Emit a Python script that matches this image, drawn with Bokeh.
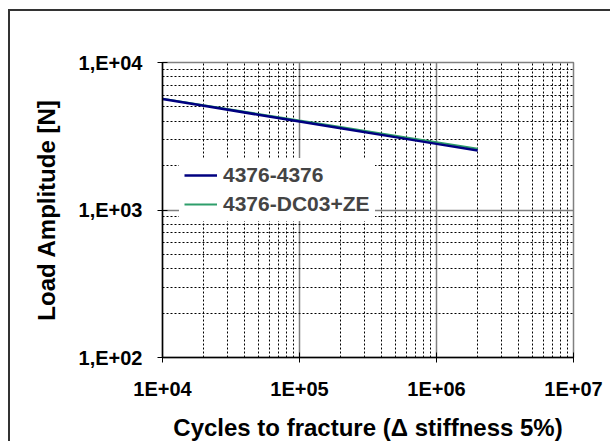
from bokeh.plotting import figure
from bokeh.models import FixedTicker, Legend, LegendItem, Range1d
from bokeh.embed import file_html
from bokeh.resources import INLINE

# Data
cycles = [1e4, 2e4, 5e4, 1e5, 2e5, 5e5, 1e6, 2e6]
load_4376_4376 = [5650, 5085, 4425, 3984, 3586, 3120, 2808, 2529]
load_4376_dc03 = [5690, 5130, 4480, 4040, 3650, 3190, 2880, 2600]

x_ticks = [1e4, 1e5, 1e6, 1e7]
x_tick_labels = ["1E+04", "1E+05", "1E+06", "1E+07"]
y_ticks = [1e2, 1e3, 1e4]
y_tick_labels = ["1,E+02", "1,E+03", "1,E+04"]

x_minor = [m * 10 ** e for e in range(4, 7) for m in range(2, 10)]
y_minor = [m * 10 ** e for e in range(2, 4) for m in range(2, 10)]

FONT = "Liberation Sans"

p = figure(width=602, height=432, x_axis_type="log", y_axis_type="log",
           output_backend="svg", toolbar_location=None,
           min_border_left=152, min_border_top=51, min_border_right=39,
           min_border_bottom=82)
p.styles = {"margin-left": "8px", "margin-top": "9px",
            "border-top": "2px solid #333333", "border-left": "2px solid #333333"}
p.x_range = Range1d(1e4, 1e7)
p.y_range = Range1d(1e2, 1e4)
p.background_fill_color = "white"
p.border_fill_color = "white"
p.outline_line_color = "#808080"
p.outline_line_width = 1.5

p.xaxis.ticker = FixedTicker(ticks=x_ticks, minor_ticks=x_minor)
p.yaxis.ticker = FixedTicker(ticks=y_ticks, minor_ticks=y_minor)
p.xaxis.major_label_overrides = {t: l for t, l in zip(x_ticks, x_tick_labels)}
p.yaxis.major_label_overrides = {t: l for t, l in zip(y_ticks, y_tick_labels)}

for ax in (p.xaxis, p.yaxis):
    ax.axis_line_color = "black"
    ax.axis_line_width = 1.5
    ax.major_tick_line_color = "black"
    ax.major_tick_in = 5
    ax.major_tick_out = 5
    ax.minor_tick_line_color = None
    ax.major_label_text_font = FONT
    ax.major_label_text_font_style = "bold"
    ax.major_label_text_font_size = "20px"
    ax.major_label_text_color = "black"
    ax.axis_label_text_font = FONT
    ax.axis_label_text_font_style = "bold"
    ax.axis_label_text_font_size = "24px"
    ax.axis_label_text_color = "black"

p.xaxis.axis_label = "Cycles to fracture (\u0394 stiffness 5%)"
p.yaxis.axis_label = "Load Amplitude [N]"
p.xaxis.major_label_standoff = 15
p.yaxis.major_label_standoff = 15
p.xaxis.axis_label_standoff = 11
p.yaxis.axis_label_standoff = 16

for g in (p.xgrid, p.ygrid):
    g.grid_line_color = "#808080"
    g.grid_line_width = 1.5
    g.minor_grid_line_color = "black"
    g.minor_grid_line_dash = "2 2"
    g.minor_grid_line_width = 1

r_green = p.line(cycles, load_4376_dc03, line_color="#2E9E6B", line_width=2)
r_navy = p.line(cycles, load_4376_4376, line_color="#000080", line_width=2.5)

legend = Legend(items=[LegendItem(label="4376-4376", renderers=[r_navy]),
                       LegendItem(label="4376-DC03+ZE", renderers=[r_green])],
                location=(17, 136))
legend.label_text_font = FONT
legend.label_text_font_style = "bold"
legend.label_text_font_size = "21px"
legend.label_height = 24
legend.glyph_height = 24
legend.glyph_width = 33
legend.spacing = 5
legend.padding = 5
legend.margin = 0
legend.label_standoff = 6
legend.border_line_alpha = 0
legend.background_fill_color = "white"
legend.background_fill_alpha = 1
p.add_layout(legend, "center")

open("out.html", "w").write(file_html(p, INLINE))
